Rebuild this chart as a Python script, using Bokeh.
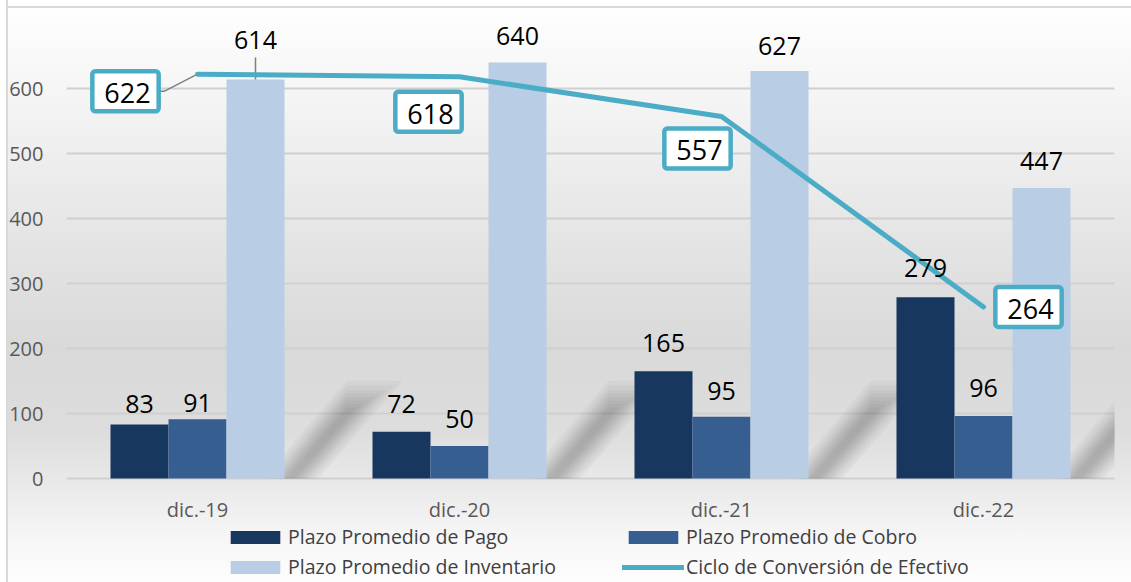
from bokeh.plotting import figure
from bokeh.models import ColumnDataSource, FixedTicker, Legend, LegendItem, Range1d
from bokeh.core.properties import value
from bokeh.embed import file_html
from bokeh.resources import INLINE

# ---------------- data ----------------
categories = ["dic.-19", "dic.-20", "dic.-21", "dic.-22"]
pago = [83, 72, 165, 279]
cobro = [91, 50, 95, 96]
inventario = [614, 640, 627, 447]
ciclo = [622, 618, 557, 264]
y_ticks = [0, 100, 200, 300, 400, 500, 600]

# ---------------- styles ----------------
FONT = "Open Sans"
C_PAGO = "#17375E"
C_COBRO = "#365E90"
C_INV = "#B9CDE5"
C_LINE = "#4BACC6"
# label lift above bar top (px)
lift_pago = [21, 28, 28, 29]
lift_cobro = [16, 27, 26, 28]
lift_inv = [39, 27, 25, 27]
# line label offsets (px, screen: +x right, +y down)
ll_dx = [-72, -31, -24, 45]
ll_dy = [17, 35, 32, 0]

W, H = 1131, 582
FL, FR, FT, FB = 66, 17, 15, 0
frame_w = W - FL - FR
PX_PER_UNIT = 0.65
Y_MAX = (478 - FT) / PX_PER_UNIT
Y_MIN = -(H - 478) / PX_PER_UNIT
dpx = 4 / frame_w          # data units per px (x)
dpy = 1 / PX_PER_UNIT      # data units per px (y)

xc = [i + 0.5 for i in range(len(categories))]
bw = 58 * dpx

p = figure(width=W, height=H, x_range=Range1d(0, 4), y_range=Range1d(Y_MIN, Y_MAX),
           output_backend="svg", toolbar_location=None, x_axis_location=None,
           min_border_left=FL, min_border_right=FR, min_border_top=FT, min_border_bottom=FB)
p.styles = {"background": (
    "linear-gradient(to right, #ffffff 0px, #ffffff 6px, #d9d9d9 6px, #d9d9d9 8px, rgba(255,255,255,0) 8px), "
    "linear-gradient(to bottom, #ffffff 0px, #ffffff 6px, #d9d9d9 6px, #d9d9d9 8px, rgba(255,255,255,0) 8px), "
    "linear-gradient(180deg, #ffffff 0%, #f5f5f5 16%, #e4e4e4 42%, #d9d9d9 60%, #dddddd 74%, #e9e9e9 83%, #f7f7f7 93%, #fdfdfd 100%)")}
p.border_fill_alpha = 0
p.background_fill_alpha = 0
p.outline_line_color = None

# soft diagonal shadows behind the inventory bars (decorative)
for x in xc:
    edge = x + bw * 1.5
    for hw in [28, 24, 20, 17, 14, 11, 8, 5]:
        top = 100 + hw * 1.8
        c0 = 6
        c1 = c0 + 80 * top / 143
        xs = [edge + (c0 - hw) * dpx, edge + (c0 + hw) * dpx, edge + (c1 + hw) * dpx, edge + (c1 - hw) * dpx]
        ys = [0, 0, top, top]
        p.patch(xs, ys, fill_color="#000000", fill_alpha=0.03, line_color=None)

src = ColumnDataSource(dict(
    xp=[x - bw for x in xc], xcb=xc, xi=[x + bw for x in xc],
    pago=pago, cobro=cobro, inv=inventario, ciclo=ciclo, xc=xc,
    tp=[str(v) for v in pago], tc=[str(v) for v in cobro], ti=[str(v) for v in inventario],
    tl=[str(v) for v in ciclo],
    lp=[-v for v in lift_pago], lc=[-v for v in lift_cobro], li=[-v for v in lift_inv],
    ldx=ll_dx, ldy=ll_dy, cat=categories, zero=[0] * len(categories),
))

r_pago = p.vbar(x="xp", top="pago", width=bw, source=src, fill_color=C_PAGO, line_color=None)
r_cobro = p.vbar(x="xcb", top="cobro", width=bw, source=src, fill_color=C_COBRO, line_color=None)
r_inv = p.vbar(x="xi", top="inv", width=bw, source=src, fill_color=C_INV, line_color=None)

# leader for 614 label
p.segment(x0=[xc[0] + bw], y0=[inventario[0]], x1=[xc[0] + bw], y1=[inventario[0] + 22 * dpy],
          line_color="#7f7f7f", line_width=1.5)
# leader for 622 label
p.line([xc[0] + (ll_dx[0] + 31) * dpx, xc[0] - 33 * dpx, xc[0]],
       [ciclo[0] - ll_dy[0] * dpy, ciclo[0] - ll_dy[0] * dpy, ciclo[0]],
       line_color="#7f7f7f", line_width=1.5)

r_line = p.line(x="xc", y="ciclo", source=src, line_color=C_LINE, line_width=5, line_cap="round")

bar_font = dict(text_font=value(FONT), text_font_size="25px", text_color="#000000",
                text_align="center", text_baseline="middle")
p.text(x="xp", y="pago", text="tp", y_offset="lp", source=src, **bar_font)
p.text(x="xcb", y="cobro", text="tc", y_offset="lc", source=src, **bar_font)
p.text(x="xi", y="inv", text="ti", y_offset="li", source=src, **bar_font)

p.text(x="xc", y="ciclo", text="tl", x_offset="ldx", y_offset="ldy", source=src,
       text_font=value(FONT), text_font_size="27px", text_color="#000000",
       text_align="center", text_baseline="middle",
       background_fill_color="white", border_line_color=C_LINE, border_line_width=4.5,
       border_radius=3, padding=(12, 8, 12, 8))

# category labels (x axis)
p.text(x="xc", y="zero", text="cat", y_offset=31, source=src,
       text_font=value(FONT), text_font_size="20px", text_color="#595959",
       text_align="center", text_baseline="middle")

# y axis
p.yaxis.ticker = FixedTicker(ticks=y_ticks)
ax = p.yaxis[0]
ax.axis_line_color = None
ax.major_tick_line_color = None
ax.minor_tick_line_color = None
ax.major_tick_out = 0
ax.major_tick_in = 0
ax.minor_tick_out = 0
ax.major_label_text_font = FONT
ax.major_label_text_color = "#595959"
ax.major_label_text_font_size = "20px"
ax.major_label_standoff = 23
p.xgrid.grid_line_color = None
p.ygrid.ticker = FixedTicker(ticks=y_ticks)
p.ygrid.grid_line_color = "#d0d0d0"
p.ygrid.grid_line_width = 2

legend = Legend(items=[
    LegendItem(label="Plazo Promedio de Pago", renderers=[r_pago]),
    LegendItem(label="Plazo Promedio de Cobro", renderers=[r_cobro]),
    LegendItem(label="Plazo Promedio de Inventario", renderers=[r_inv]),
    LegendItem(label="Ciclo de Conversión de Efectivo", renderers=[r_line]),
], ncols=2, orientation="horizontal", location=(158, 2))
legend.background_fill_alpha = 0
legend.border_line_color = None
legend.padding = 0
legend.margin = 0
legend.spacing = 3
legend.glyph_width = 62
legend.glyph_height = 16
legend.label_standoff = 2
legend.label_width = 331
legend.label_height = 26
legend.label_text_font = FONT
legend.label_text_font_size = "19.5px"
legend.label_text_color = "#404040"
p.add_layout(legend, "center")

open("out.html", "w").write(file_html(p, INLINE))
